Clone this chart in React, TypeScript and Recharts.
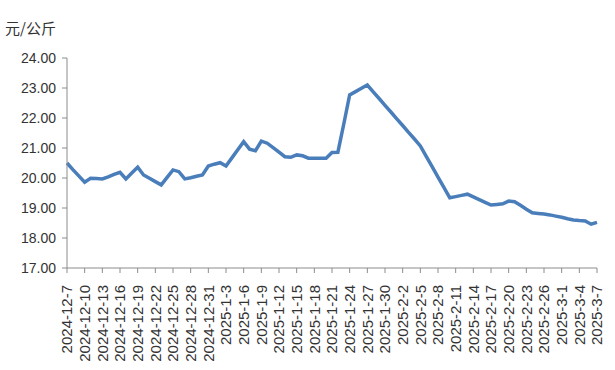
import { LineChart, Line, XAxis, YAxis } from "recharts";

// daily dates, 2024-12-7 .. 2025-3-7
const dates = [
  "2024-12-7", "2024-12-8", "2024-12-9", "2024-12-10", "2024-12-11", "2024-12-12",
  "2024-12-13", "2024-12-14", "2024-12-15", "2024-12-16", "2024-12-17", "2024-12-18",
  "2024-12-19", "2024-12-20", "2024-12-21", "2024-12-22", "2024-12-23", "2024-12-24",
  "2024-12-25", "2024-12-26", "2024-12-27", "2024-12-28", "2024-12-29", "2024-12-30",
  "2024-12-31", "2025-1-1", "2025-1-2", "2025-1-3", "2025-1-4", "2025-1-5",
  "2025-1-6", "2025-1-7", "2025-1-8", "2025-1-9", "2025-1-10", "2025-1-11",
  "2025-1-12", "2025-1-13", "2025-1-14", "2025-1-15", "2025-1-16", "2025-1-17",
  "2025-1-18", "2025-1-19", "2025-1-20", "2025-1-21", "2025-1-22", "2025-1-23",
  "2025-1-24", "2025-1-25", "2025-1-26", "2025-1-27", "2025-1-28", "2025-1-29",
  "2025-1-30", "2025-1-31", "2025-2-1", "2025-2-2", "2025-2-3", "2025-2-4",
  "2025-2-5", "2025-2-6", "2025-2-7", "2025-2-8", "2025-2-9", "2025-2-10",
  "2025-2-11", "2025-2-12", "2025-2-13", "2025-2-14", "2025-2-15", "2025-2-16",
  "2025-2-17", "2025-2-18", "2025-2-19", "2025-2-20", "2025-2-21", "2025-2-22",
  "2025-2-23", "2025-2-24", "2025-2-25", "2025-2-26", "2025-2-27", "2025-2-28",
  "2025-3-1", "2025-3-2", "2025-3-3", "2025-3-4", "2025-3-5", "2025-3-6",
  "2025-3-7",
];

// 元/公斤
const prices = [
  20.5, 20.28, 20.07, 19.86, 19.99, 19.98,
  19.97, 20.04, 20.12, 20.19, 19.97, 20.17,
  20.36, 20.1, 19.99, 19.88, 19.77, 20.02,
  20.27, 20.21, 19.97, 20.01, 20.06, 20.1,
  20.4, 20.46, 20.51, 20.4, 20.67, 20.94,
  21.21, 20.96, 20.91, 21.23, 21.16, 21.01,
  20.86, 20.71, 20.69, 20.77, 20.74, 20.66,
  20.66, 20.66, 20.66, 20.85, 20.86, 21.8,
  22.77, 22.88, 22.99, 23.1, 22.87, 22.65,
  22.42, 22.2, 21.97, 21.75, 21.52, 21.3,
  21.07, 20.72, 20.38, 20.03, 19.69, 19.34,
  19.38, 19.42, 19.46, 19.37, 19.28, 19.19,
  19.1, 19.12, 19.14, 19.23, 19.21, 19.09,
  18.96, 18.84, 18.82, 18.8, 18.77, 18.73,
  18.69, 18.64, 18.6, 18.58, 18.57, 18.46,
  18.52,
];

const yTicks = [17, 18, 19, 20, 21, 22, 23, 24];
const unitLabel = "元/公斤";

const data = dates.map((d, i) => ({ date: d, price: prices[i] }));

const font = "'Liberation Sans', Arial, 'Noto Sans CJK SC', sans-serif";
const axisColor = "#8c8c8c";
const textColor = "#333333";

const DateTick = (props: any) => {
  const { x, y, payload } = props;
  return (
    <text
      x={x}
      y={y + 10}
      dy="0.35em"
      transform={`rotate(-90, ${x}, ${y + 10})`}
      textAnchor="end"
      fill={textColor}
      fontSize={15}
      fontFamily={font}
    >
      {payload.value}
    </text>
  );
};

export default function App() {
  return (
    <div style={{ position: "absolute", left: 0, top: 0, width: 615, height: 370, background: "#fff" }}>
      <div
        style={{
          position: "absolute",
          left: 5,
          top: 17,
          fontSize: 15,
          fontFamily: "'Noto Sans CJK SC', sans-serif",
          color: textColor,
        }}
      >
        {unitLabel}
      </div>
      <LineChart
        width={615}
        height={370}
        data={data}
        margin={{ top: 58, right: 18, bottom: 12, left: 7 }}
      >
        <XAxis
          dataKey="date"
          interval={2}
          height={90}
          stroke={axisColor}
          tickSize={5}
          tick={<DateTick />}
          tickLine={{ stroke: axisColor }}
        />
        <YAxis
          domain={[17, 24]}
          ticks={yTicks}
          interval={0}
          width={60}
          stroke={axisColor}
          tickSize={5}
          tickMargin={6}
          tickFormatter={(v: number) => v.toFixed(2)}
          tick={{ fill: textColor, fontSize: 14, fontFamily: font }}
        />
        <Line
          type="linear"
          dataKey="price"
          stroke="#4a7ebb"
          strokeWidth={3.5}
          dot={false}
          isAnimationActive={false}
        />
      </LineChart>
    </div>
  );
}
